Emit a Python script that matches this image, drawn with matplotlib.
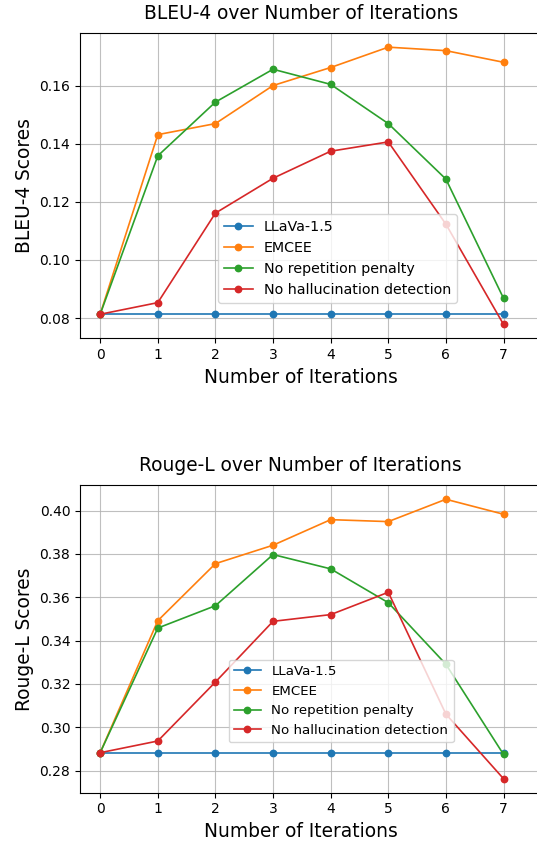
import matplotlib
matplotlib.use("Agg")
import matplotlib.pyplot as plt

iterations = [0, 1, 2, 3, 4, 5, 6, 7]
labels = ["LLaVa-1.5", "EMCEE", "No repetition penalty", "No hallucination detection"]
colors = ["#1f77b4", "#ff7f0e", "#2ca02c", "#d62728"]

bleu_llava = [0.0813] * 8
bleu_emcee = [0.0813, 0.1431, 0.1469, 0.1600, 0.1662, 0.1732, 0.1720, 0.1680]
bleu_norep = [0.0813, 0.1358, 0.1543, 0.1656, 0.1604, 0.1469, 0.1278, 0.0868]
bleu_nohal = [0.0813, 0.0853, 0.1161, 0.1281, 0.1374, 0.1406, 0.1123, 0.0778]

rouge_llava = [0.2883] * 8
rouge_emcee = [0.2883, 0.3492, 0.3755, 0.3840, 0.3958, 0.3949, 0.4052, 0.3983]
rouge_norep = [0.2883, 0.3458, 0.3561, 0.3797, 0.3731, 0.3575, 0.3291, 0.2875]
rouge_nohal = [0.2883, 0.2937, 0.3209, 0.3489, 0.3520, 0.3623, 0.3061, 0.2763]

W, H = 537, 843
fig = plt.figure(figsize=(W / 100, H / 100), dpi=100)

def draw(ax, series, title, ylabel, legend_anchor, legend_size):
    for s, lab, c in zip(series, labels, colors):
        ax.plot(iterations, s, marker="o", color=c, label=lab, markersize=4.6, linewidth=1.2)
    ax.set_title(title, fontsize=13.4, pad=10, x=0.46)
    ax.set_xlabel("Number of Iterations", fontsize=13.4)
    ax.xaxis.label.set_x(0.46)
    ax.set_ylabel(ylabel, fontsize=13.4)
    ax.set_xticks(iterations)
    ax.tick_params(labelsize=10)
    ax.grid(True, color="#b0b0b0", linewidth=0.8, alpha=0.8)
    ax.set_xlim(-0.35, 7.98)
    ax.legend(loc="lower left", bbox_to_anchor=legend_anchor, fontsize=legend_size)

ax1 = fig.add_axes([80 / W, 1 - 338.3 / H, 480 / W, (338.3 - 33.3) / H])
draw(ax1, [bleu_llava, bleu_emcee, bleu_norep, bleu_nohal],
     "BLEU-4 over Number of Iterations", "BLEU-4 Scores", (0.273, 0.092), 10.3)

ax2 = fig.add_axes([80 / W, 1 - 792.7 / H, 480 / W, (792.7 - 485.3) / H])
draw(ax2, [rouge_llava, rouge_emcee, rouge_norep, rouge_nohal],
     "Rouge-L over Number of Iterations", "Rouge-L Scores", (0.296, 0.142), 9.6)

fig.savefig("out.png", dpi=100)
